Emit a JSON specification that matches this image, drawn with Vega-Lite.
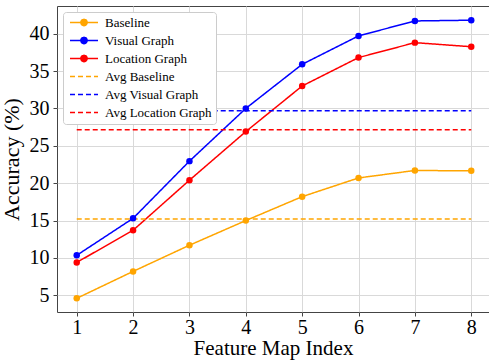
{
  "$schema": "https://vega.github.io/schema/vega-lite/v6.json",
  "width": 432,
  "height": 306,
  "autosize": "none",
  "padding": {"left": 57, "top": 6, "right": 0, "bottom": 48},
  "background": "white",
  "config": {
    "font": "Liberation Serif",
    "view": {"stroke": "#444444", "strokeWidth": 1}
  },
  "data": {
    "values": [
      {"series": "Baseline", "x": 1, "y": 4.6},
      {"series": "Baseline", "x": 2, "y": 8.2},
      {"series": "Baseline", "x": 3, "y": 11.7},
      {"series": "Baseline", "x": 4, "y": 15.0},
      {"series": "Baseline", "x": 5, "y": 18.2},
      {"series": "Baseline", "x": 6, "y": 20.7},
      {"series": "Baseline", "x": 7, "y": 21.7},
      {"series": "Baseline", "x": 8, "y": 21.65},
      {"series": "Visual Graph", "x": 1, "y": 10.35},
      {"series": "Visual Graph", "x": 2, "y": 15.3},
      {"series": "Visual Graph", "x": 3, "y": 22.95},
      {"series": "Visual Graph", "x": 4, "y": 30.0},
      {"series": "Visual Graph", "x": 5, "y": 35.9},
      {"series": "Visual Graph", "x": 6, "y": 39.7},
      {"series": "Visual Graph", "x": 7, "y": 41.7},
      {"series": "Visual Graph", "x": 8, "y": 41.8},
      {"series": "Location Graph", "x": 1, "y": 9.4},
      {"series": "Location Graph", "x": 2, "y": 13.7},
      {"series": "Location Graph", "x": 3, "y": 20.4},
      {"series": "Location Graph", "x": 4, "y": 26.9},
      {"series": "Location Graph", "x": 5, "y": 33.0},
      {"series": "Location Graph", "x": 6, "y": 36.8},
      {"series": "Location Graph", "x": 7, "y": 38.8},
      {"series": "Location Graph", "x": 8, "y": 38.25},
      {"series": "Avg Baseline", "x": 1, "y": 15.2},
      {"series": "Avg Baseline", "x": 8, "y": 15.2},
      {"series": "Avg Visual Graph", "x": 1, "y": 29.7},
      {"series": "Avg Visual Graph", "x": 8, "y": 29.7},
      {"series": "Avg Location Graph", "x": 1, "y": 27.15},
      {"series": "Avg Location Graph", "x": 8, "y": 27.15}
    ]
  },
  "encoding": {
    "x": {
      "field": "x", "type": "quantitative",
      "scale": {"domain": [0.65, 8.315], "nice": false, "zero": false},
      "axis": {
        "title": "Feature Map Index", "values": [1, 2, 3, 4, 5, 6, 7, 8],
        "labelFontSize": 20, "titleFontSize": 21, "titleFontWeight": "normal",
        "labelColor": "#000000", "titleColor": "#000000",
        "domain": false, "tickSize": 4, "tickColor": "#444444", "labelPadding": 1, "titlePadding": 0,
        "grid": true, "gridColor": "#d9d9d9", "labelFlush": false
      }
    },
    "y": {
      "field": "y", "type": "quantitative",
      "scale": {"domain": [2.77, 43.7], "nice": false, "zero": false},
      "axis": {
        "title": "Accuracy (%)", "values": [5, 10, 15, 20, 25, 30, 35, 40],
        "labelFontSize": 20, "titleFontSize": 22, "titleFontWeight": "normal",
        "labelColor": "#000000", "titleColor": "#000000",
        "domain": false, "tickSize": 4, "tickColor": "#444444", "labelPadding": 4, "titlePadding": 6,
        "grid": true, "gridColor": "#d9d9d9", "labelFlush": false
      }
    },
    "color": {
      "field": "series", "type": "nominal",
      "scale": {
        "domain": ["Baseline", "Visual Graph", "Location Graph", "Avg Baseline", "Avg Visual Graph", "Avg Location Graph"],
        "range": ["#FFA500", "#0000FF", "#FF0000", "#FFA500", "#0000FF", "#FF0000"]
      },
      "legend": {
        "title": null, "orient": "top-left", "offset": 6, "padding": 4,
        "fillColor": "white", "strokeColor": "#cccccc", "cornerRadius": 3,
        "labelFontSize": 13, "labelFont": "Liberation Serif", "labelColor": "#000000",
        "symbolSize": 49, "symbolStrokeWidth": 1.5, "labelOffset": 25, "rowPadding": 4,
        "labelLimit": 300,
        "encode": {
          "symbols": {
            "update": {
              "shape": {"signal": "indexof(['Baseline','Visual Graph','Location Graph'], datum.value) >= 0 ? 'M-1,0L7,0M3.9,0A0.9,0.9 0 1,1 2.1,0A0.9,0.9 0 1,1 3.9,0' : 'M-1,0L7,0'"},
              "fill": {"signal": "indexof(['Baseline','Visual Graph','Location Graph'], datum.value) >= 0 ? scale('color', datum.value) : 'transparent'"},
              "fillOpacity": {"value": 1}
            }
          }
        }
      }
    }
  },
  "layer": [
    {
      "mark": {"type": "line", "strokeWidth": 1.5},
      "encoding": {
        "strokeDash": {
          "field": "series", "type": "nominal",
          "scale": {
            "domain": ["Baseline", "Visual Graph", "Location Graph", "Avg Baseline", "Avg Visual Graph", "Avg Location Graph"],
            "range": [[1, 0], [1, 0], [1, 0], [5, 3], [5, 3], [5, 3]]
          }
        }
      }
    },
    {
      "transform": [{"filter": "indexof(['Baseline','Visual Graph','Location Graph'], datum.series) >= 0"}],
      "mark": {"type": "circle", "size": 42, "opacity": 1},
      "encoding": {
        "color": {"field": "series", "type": "nominal", "legend": null}
      }
    }
  ]
}
